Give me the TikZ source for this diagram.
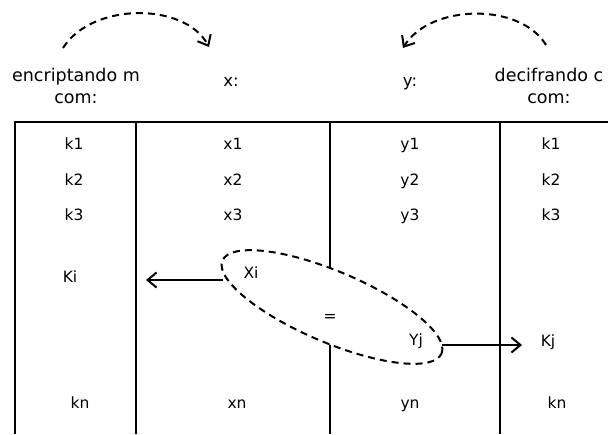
\documentclass[tikz,border=0pt]{standalone}
\usepackage{fontspec}
\setmainfont{DejaVu Sans}
\usetikzlibrary{shapes.geometric,arrows.meta}
\begin{document}
\begin{tikzpicture}[x=1pt,y=-1pt,
  rule/.style={line width=2pt},
  cell/.style={font=\fontsize{15.5}{18}\selectfont, inner sep=0pt, text height=11.3pt, text depth=0pt},
  head/.style={font=\fontsize{17.5}{22}\selectfont, align=center, inner sep=0pt},
  lab/.style={font=\fontsize{16.5}{19}\selectfont, inner sep=0pt, text height=12pt, text depth=0pt},
  dsh/.style={line width=2pt, dash pattern=on 7pt off 5pt},
  arr/.style={line width=2pt, -{Straight Barb[length=9pt,width=15pt,line width=2pt]}}]
\useasboundingbox (0,0) rectangle (608,434);
% table rules
\draw[rule] (15,434) -- (15,122) -- (608,122);
\draw[rule] (136,122) -- (136,434);
\draw[rule] (330,122) -- (330,434);
\draw[rule] (500,122) -- (500,434);
% headers
\node[head] (hm) at (76,86) {encriptando m\\com:};
\node[lab] (hx) at (231,80) {x:};
\node[lab] (hy) at (410,80) {y:};
\node[head] (hc) at (549,86) {decifrando c\\com:};
% curved dashed arrows
\coordinate (a1s) at (63,48);
\coordinate (a1e) at (209,47);
\coordinate (a2s) at (546,45);
\coordinate (a2e) at (403,48);
\draw[dsh, -{Straight Barb[length=9pt,width=15pt,line width=2pt]}] (a1s) .. controls (92,2) and (185,2) .. (a1e);
\draw[dsh, -{Straight Barb[length=9pt,width=15pt,line width=2pt]}] (a2s) .. controls (520,2) and (430,4) .. (a2e);
% cells
\node[cell] (k1) at (74,144) {k1};
\node[cell] (x1) at (233,144) {x1};
\node[cell] (y1) at (410,144) {y1};
\node[cell] (kk1) at (551,144) {k1};
\node[cell] (k2) at (74,180) {k2};
\node[cell] (x2) at (233,180) {x2};
\node[cell] (y2) at (410,180) {y2};
\node[cell] (kk2) at (551,180) {k2};
\node[cell] (k3) at (74,215) {k3};
\node[cell] (x3) at (233,215) {x3};
\node[cell] (y3) at (410,215) {y3};
\node[cell] (kk3) at (551,215) {k3};
\node[cell] (kn) at (80,403) {kn};
\node[cell] (xn) at (237,403) {xn};
\node[cell] (yn) at (410,403) {yn};
\node[cell] (kkn) at (557,403) {kn};
% ellipse
\node[dsh, draw, fill=white, ellipse, minimum width=238pt, minimum height=71pt, inner sep=0pt, rotate=-23] (ell) at (332,307) {};
\node[cell] (xi) at (251,273) {Xi};
\node[cell] (eq) at (330,316) {=};
\node[cell] (yj) at (416,340) {Yj};
\node[cell] (ki) at (70,277) {Ki};
\node[cell] (kj) at (548,341) {Kj};
% arrows
\coordinate (xb) at (223,280);
\coordinate (yb) at (442,345);
\coordinate (tl) at (146,280);
\coordinate (tr) at (522,345);
\draw[arr] (xb) -- (tl);
\draw[arr] (yb) -- (tr);
\end{tikzpicture}
\end{document}
